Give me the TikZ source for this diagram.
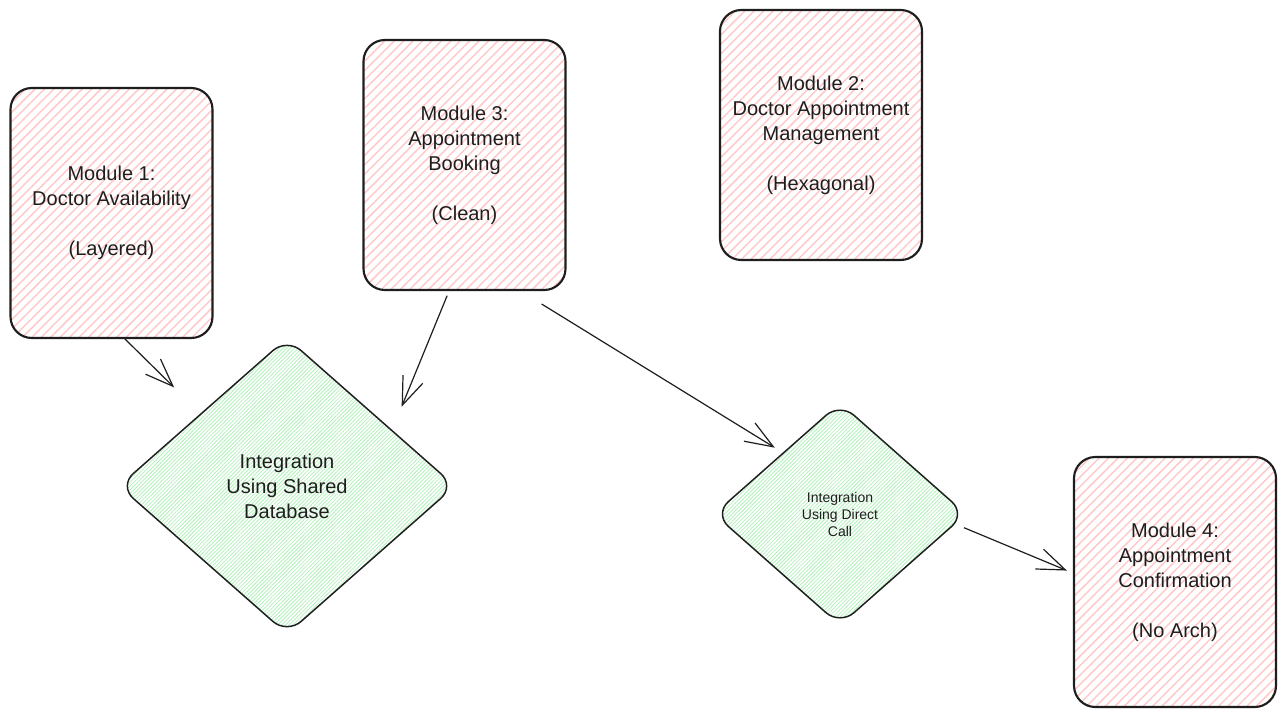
\documentclass[tikz,border=0pt]{standalone}
\usepackage{fontspec}
\setmainfont{Liberation Sans}
\usetikzlibrary{arrows.meta, shapes.geometric, patterns.meta}
\definecolor{ink}{HTML}{1E1E1E}
\definecolor{pinkhatch}{HTML}{FFC9C9}
\definecolor{greenhatch}{HTML}{B2F2BB}

\begin{document}
\begin{tikzpicture}[x=0.75pt,y=-0.75pt,>={Straight Barb[length=21pt,width=16pt]},
                    line width=0.9pt,draw=ink,text=ink]
   \tikzstyle{module}=[rectangle,draw=ink,line width=1.6pt,rounded corners=16pt,
                       pattern={Lines[angle=45,distance=5pt,line width=1.1pt]},
                       pattern color=pinkhatch,minimum width=151.5pt,minimum height=187.5pt,
                       align=center,font=\fontsize{15}{18.75}\selectfont]
   \tikzstyle{integration}=[diamond,draw=ink,line width=1.1pt,rounded corners=14pt,inner sep=0pt,
                            pattern={Lines[angle=45,distance=2pt,line width=0.6pt]},
                            pattern color=greenhatch,align=center]

   \fill[white] (0,0) rectangle (1287,718);
   \useasboundingbox (0,0) rectangle (1287,718);

   \node[module] (M1) at (111.5,213) {Module 1:\\Doctor Availability\\[18.75pt](Layered)};
   \node[module] (M3) at (464.5,165) {Module 3:\\Appointment\\Booking\\[18.75pt](Clean)};
   \node[module] (M2) at (821,135)   {Module 2:\\Doctor Appointment\\Management\\[18.75pt](Hexagonal)};
   \node[module] (M4) at (1175,582)  {Module 4:\\Appointment\\Confirmation\\[18.75pt](No Arch)};

   \node[integration,minimum width=252pt,minimum height=222pt,
         font=\fontsize{15}{18.75}\selectfont] (DB) at (287,486)
         {Integration\\Using Shared\\Database};
   \node[integration,minimum width=189pt,minimum height=167pt,
         font=\fontsize{10.5}{12.75}\selectfont] (DC) at (840,514)
         {Integration\\Using Direct\\Call};

   \path (M1.-84.5) edge [->,shorten >=28pt] (DB.140.7)
         (M3.263.6) edge [->,shorten <=3.75pt,shorten >=19pt] (DB.28.4)
         (M3.-66.4) edge [->,shorten <=18.5pt,shorten >=7pt] (DC.133.7)
         (DC.-5.7)  edge [->,shorten <=7pt,shorten >=4.9pt] (M4.175.7);
\end{tikzpicture}
\end{document}
